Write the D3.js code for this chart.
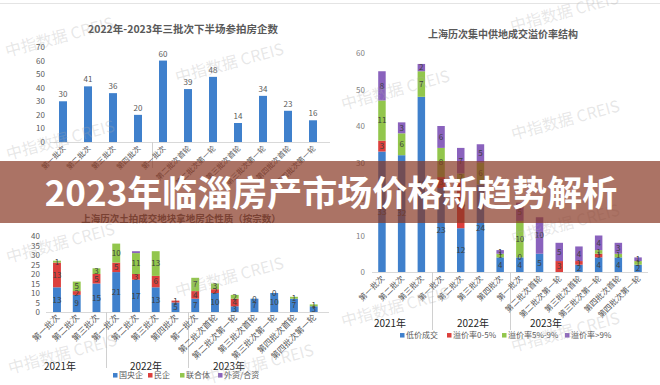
<!DOCTYPE html>
<html lang="zh">
<head>
<meta charset="UTF-8">
<title>2023年临淄房产市场价格新趋势解析</title>
<style>
  body { margin: 0; background: #fff; }
  svg { display: block; font-family: "Noto Sans CJK SC", "Noto Sans", sans-serif; }
</style>
</head>
<body>
<script src="https://d3js.org/d3.v7.min.js"></script>
<script>
// chart A: 2022-2023 三批次下半场参拍房企数
var aCats = ["第一批次", "第二批次", "第三批次", "第四批次", "第一批次", "第二批次首轮", "第二批次第一轮", "第三批次首轮", "第三批次第一轮", "第四批次首轮", "第四批次第一轮"];
var aValues = [30, 41, 36, 20, 60, 39, 48, 14, 34, 23, 16];
var aTicks = [0, 10, 20, 30, 40, 50, 60, 70];

// chart B: 上海历次集中供地成交溢价率结构
var bCats = ["第一批次", "第二批次", "第三批次", "第一批次", "第二批次", "第三批次", "第四批次", "第一批次", "第二批次首轮", "第二批次第一轮", "第三批次首轮", "第三批次第一轮", "第四批次首轮", "第四批次第一轮"];
var bSeries = ["低价成交", "溢价率0-5%", "溢价率5%-9%", "溢价率>9%"];
var bLow = [33, 32, 48, 23, 12, 24, 4, 4, 5, null, 2, 4, 4, 2];
var bP0to5 = [3, null, null, 3, 13, null, null, 0, null, 3, 1, 1, null, null];
var bP5to9 = [11, 6, 7, 8, 2, 6, 1, 10, null, null, null, 1, 1, 1];
var bP9 = [8, 3, 2, 6, 7, 5, 1, 5, 10, 5, 4, 4, 3, 1];
var bTicks = [0, 10, 20, 30, 40, 50, 60];
var bYears = ["2021年", "2022年", "2023年"];

// chart C: 上海历次土拍成交地块拿地房企性质（按宗数）
var cCats = bCats;
var cSeries = ["国央企", "民企", "联合体", "外资/合资"];
var cState = [13, 9, 15, 21, 17, 13, 5, 7, 10, 3, 7, 10, 7, 3];
var cPrivate = [13, 2, 5, 5, 3, 6, 1, 4, 2, 4, null, null, null, null];
var cJoint = [1, 5, 3, 10, 11, 13, null, 7, 3, 2, 0, 0, 1, 1];
var cForeign = [null, null, null, null, 1, null, null, null, null, null, null, null, null, null];
var cTicks = [0, 5, 10, 15, 20, 25, 30, 35, 40];
var cYears = ["2021年", "2022年", "2023年"];

var colors = ["#3f80cc", "#dc3f3c", "#92c64c", "#8a62bd"];
var grey = "#595959";

var svg = d3.select("body").append("svg")
  .attr("width", 660)
  .attr("height", 385);

svg.append("line")
  .attr("x1", 0).attr("x2", 660).attr("y1", 3.5).attr("y2", 3.5)
  .attr("stroke", "#e4e4e4");

// ---------- chart A ----------
var ax = d3.scaleBand().domain(d3.range(aCats.length)).range([50.5, 325.5]).paddingInner(0.68).paddingOuter(0.34);
var ay = d3.scaleLinear().domain([0, 70]).range([142, 47]);

var gA = svg.append("g");
gA.append("text").attr("x", 183).attr("y", 33).attr("text-anchor", "middle")
  .attr("font-size", 10.5).attr("font-weight", "bold").attr("fill", grey)
  .text("2022年-2023年三批次下半场参拍房企数");

gA.selectAll(".ytick").data(aTicks).enter().append("text")
  .attr("x", 45).attr("y", function(d) { return ay(d) + 3; })
  .attr("text-anchor", "end").attr("font-size", 8).attr("fill", grey)
  .text(function(d) { return d; });

gA.append("line").attr("x1", 50).attr("x2", 330).attr("y1", ay(0) + 0.5).attr("y2", ay(0) + 0.5).attr("stroke", "#d9d9d9");
gA.append("line").attr("x1", 152.5).attr("x2", 152.5).attr("y1", ay(0)).attr("y2", 168).attr("stroke", "#d0d0d0");

gA.selectAll("rect").data(aValues).enter().append("rect")
  .attr("x", function(d, i) { return ax(i); })
  .attr("y", function(d) { return ay(d); })
  .attr("width", ax.bandwidth())
  .attr("height", function(d) { return ay(0) - ay(d); })
  .attr("fill", colors[0]);

gA.selectAll(".val").data(aValues).enter().append("text")
  .attr("x", function(d, i) { return ax(i) + ax.bandwidth() / 2; })
  .attr("y", function(d) { return ay(d) - 4; })
  .attr("text-anchor", "middle").attr("font-size", 8).attr("fill", grey)
  .text(function(d) { return d; });

gA.selectAll(".xl").data(aCats).enter().append("text")
  .attr("transform", function(d, i) { return "translate(" + (ax(i) + ax.bandwidth() / 2 + 3) + "," + 149 + ") rotate(-45)"; })
  .attr("text-anchor", "end").attr("font-size", 7.5).attr("fill", grey)
  .text(function(d) { return d; });

// stacked chart helper for B and C (the 外资/合资 layer gets no labels)
function stacked(g, cats, series, x, y, labelSize, skipLabel) {
  var rows = cats.map(function(c, i) {
    var o = { i: i };
    series.forEach(function(s, k) { o[k] = s[i]; });
    return o;
  });
  var layers = d3.stack().keys(d3.range(series.length)).value(function(d, k) { return d[k] || 0; })(rows);
  layers.forEach(function(layer, k) {
    var segs = layer.filter(function(d) { return series[k][d.data.i] !== null; });
    g.selectAll(".s" + k).data(segs).enter().append("rect")
      .attr("x", function(d) { return x(d.data.i); })
      .attr("y", function(d) { return y(d[1]); })
      .attr("width", x.bandwidth())
      .attr("height", function(d) { return y(d[0]) - y(d[1]); })
      .attr("fill", colors[k]);
  });
  layers.forEach(function(layer, k) {
    if (k === skipLabel) return;
    var segs = layer.filter(function(d) { return series[k][d.data.i] !== null; });
    g.selectAll(".l" + k).data(segs).enter().append("text")
      .attr("x", function(d) { return x(d.data.i) + x.bandwidth() / 2; })
      .attr("y", function(d) { return (y(d[0]) + y(d[1])) / 2 + labelSize * 0.36; })
      .attr("text-anchor", "middle").attr("font-size", labelSize).attr("fill", "#404040")
      .text(function(d) { return series[k][d.data.i]; });
  });
}

function legend(g, names, xs, yPos, size) {
  names.forEach(function(n, k) {
    g.append("rect").attr("x", xs[k]).attr("y", yPos - size * 0.62).attr("width", 4.5).attr("height", 4.5).attr("fill", colors[k]);
    g.append("text").attr("x", xs[k] + 6).attr("y", yPos).attr("font-size", size).attr("fill", grey).text(n);
  });
}

// ---------- chart B ----------
var bx = d3.scaleBand().domain(d3.range(bCats.length)).range([372.1, 647.9]).paddingInner(0.62).paddingOuter(0.31);
var by = d3.scaleLinear().domain([0, 60]).range([272, 53]);
var gB = svg.append("g");

gB.append("text").attr("x", 503).attr("y", 38).attr("text-anchor", "middle")
  .attr("font-size", 10).attr("font-weight", "bold").attr("fill", grey)
  .text("上海历次集中供地成交溢价率结构");

gB.selectAll(".ytick").data(bTicks).enter().append("text")
  .attr("x", 365).attr("y", function(d) { return by(d) + 3; })
  .attr("text-anchor", "end").attr("font-size", 8).attr("fill", "#7f7f7f")
  .text(function(d) { return d; });

gB.append("line").attr("x1", 372).attr("x2", 648).attr("y1", by(0) + 0.5).attr("y2", by(0) + 0.5).attr("stroke", "#d9d9d9");
[432.5, 510.5].forEach(function(xv) {
  gB.append("line").attr("x1", xv).attr("x2", xv).attr("y1", by(0)).attr("y2", 330).attr("stroke", "#d0d0d0");
});

stacked(gB, bCats, [bLow, bP0to5, bP5to9, bP9], bx, by, 8, -1);

gB.selectAll(".xl").data(bCats).enter().append("text")
  .attr("transform", function(d, i) { return "translate(" + (bx(i) + bx.bandwidth() / 2 + 3) + "," + 279 + ") rotate(-45)"; })
  .attr("text-anchor", "end").attr("font-size", 8).attr("fill", grey)
  .text(function(d) { return d; });

[390, 473, 546].forEach(function(xv, k) {
  gB.append("text").attr("x", xv).attr("y", 327).attr("text-anchor", "middle")
    .attr("font-size", 10).attr("fill", "#262626").text(bYears[k]);
});
legend(gB, bSeries, [400, 447, 502, 565], 338, 8);

// ---------- chart C ----------
var cx = d3.scaleBand().domain(d3.range(cCats.length)).range([47.1, 323.6]).paddingInner(0.6).paddingOuter(0.3);
var cy = d3.scaleLinear().domain([0, 40]).range([312, 236]);
var gC = svg.append("g");

gC.append("text").attr("x", 181).attr("y", 222).attr("text-anchor", "middle")
  .attr("font-size", 9.5).attr("font-weight", "bold").attr("fill", grey)
  .text("上海历次土拍成交地块拿地房企性质（按宗数）");

gC.selectAll(".ytick").data(cTicks).enter().append("text")
  .attr("x", 40).attr("y", function(d) { return cy(d) + 3; })
  .attr("text-anchor", "end").attr("font-size", 8).attr("fill", grey)
  .text(function(d) { return d; });

gC.append("line").attr("x1", 46).attr("x2", 329).attr("y1", cy(0) + 0.5).attr("y2", cy(0) + 0.5).attr("stroke", "#d9d9d9");
[106.5, 188.5].forEach(function(xv) {
  gC.append("line").attr("x1", xv).attr("x2", xv).attr("y1", cy(0)).attr("y2", 368).attr("stroke", "#d0d0d0");
});

stacked(gC, cCats, [cState, cPrivate, cJoint, cForeign], cx, cy, 8, 3);

gC.selectAll(".xl").data(cCats).enter().append("text")
  .attr("transform", function(d, i) { return "translate(" + (cx(i) + cx.bandwidth() / 2 + 3) + "," + 318 + ") rotate(-45)"; })
  .attr("text-anchor", "end").attr("font-size", 8.5).attr("fill", grey)
  .text(function(d) { return d; });

[60, 146, 229].forEach(function(xv, k) {
  gC.append("text").attr("x", xv).attr("y", 370).attr("text-anchor", "middle")
    .attr("font-size", 10).attr("fill", "#262626").text(cYears[k]);
});
legend(gC, cSeries, [113, 148, 180, 218], 378, 8);

// watermarks
var marks = [[7, 57], [177, 83], [8, 160], [512, 32], [343, 110], [513, 140], [8, 263], [177, 297], [10, 374], [207, 384], [343, 327], [513, 352], [513, 244]];
svg.selectAll(".wm").data(marks).enter().append("text")
  .attr("transform", function(d) { return "translate(" + d[0] + "," + d[1] + ") rotate(-15)"; })
  .attr("font-size", 16).attr("fill", "rgba(170,170,170,0.28)")
  .text("中指数据 CREIS");

// banner
svg.append("rect").attr("x", 0).attr("y", 161).attr("width", 660).attr("height", 62)
  .attr("fill", "rgba(135,55,35,0.7)");
svg.append("text").attr("x", 331).attr("y", 206).attr("text-anchor", "middle")
  .attr("font-size", 35).attr("font-weight", "bold").attr("fill", "#fff")
  .text("2023年临淄房产市场价格新趋势解析");
</script>
</body>
</html>
